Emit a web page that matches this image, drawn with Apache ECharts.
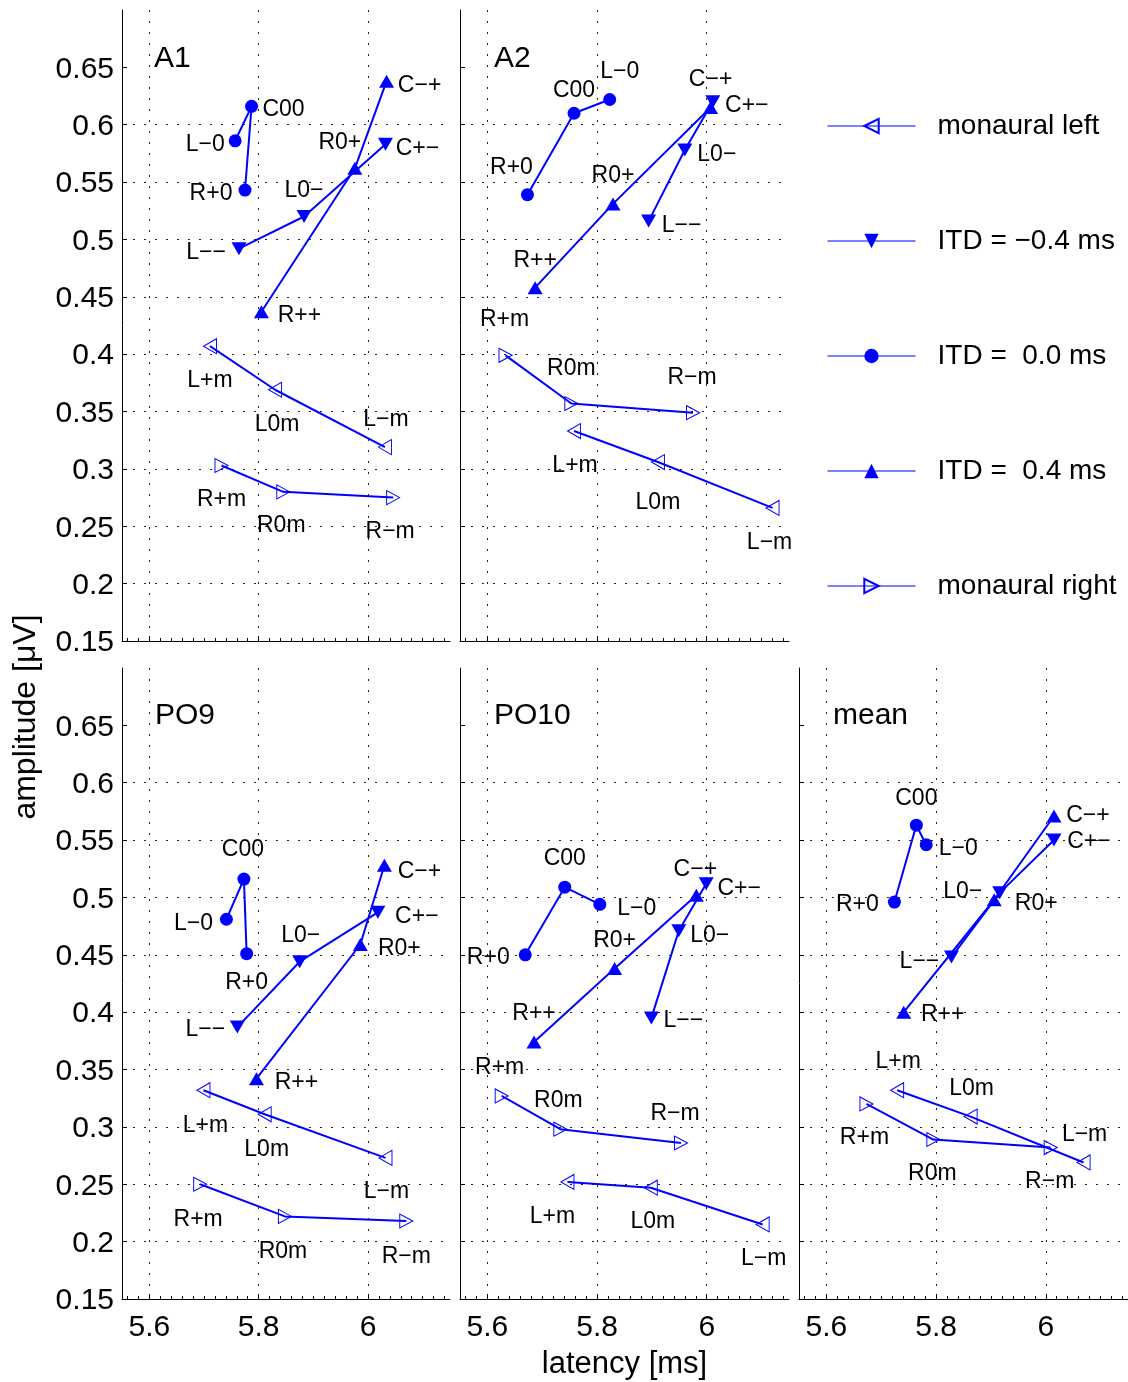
<!DOCTYPE html>
<html>
<head>
<meta charset="utf-8">
<title>Latency vs. amplitude</title>
<script src="https://cdn.jsdelivr.net/npm/echarts@6/dist/echarts.min.js"></script>
<style>
  html, body { margin: 0; padding: 0; background: #fff; }
  #chart { width: 1128px; height: 1382px; }
</style>
</head>
<body>
<div id="chart"></div>
<script>
// ---------------------------------------------------------------------------
// Data
// ---------------------------------------------------------------------------
const panelNames = ['A1', 'A2', 'PO9', 'PO10', 'mean'];
const seriesNames = ['monaural left', 'ITD = \u22120.4 ms', 'ITD =  0.0 ms', 'ITD =  0.4 ms', 'monaural right'];
const pointNames = [
  ['L+m', 'L0m', 'L\u2212m'],
  ['L\u2212\u2212', 'L0\u2212', 'C+\u2212'],
  ['L\u22120', 'C00', 'R+0'],
  ['R++', 'R0+', 'C\u2212+'],
  ['R+m', 'R0m', 'R\u2212m']
];

// latency [ms] and amplitude [uV]; rows follow seriesNames, columns follow pointNames
const latencyA1     = [[5.711, 5.830, 6.031], [5.764, 5.883, 6.032], [5.757, 5.787, 5.775], [5.805, 5.976, 6.034], [5.732, 5.845, 6.046]];
const amplitudeA1   = [[0.407, 0.369, 0.319], [0.492, 0.520, 0.583], [0.586, 0.616, 0.543], [0.437, 0.562, 0.638], [0.303, 0.280, 0.275]];
const latencyA2     = [[5.758, 5.911, 6.120], [5.894, 5.960, 6.011], [5.823, 5.758, 5.673], [5.687, 5.829, 6.007], [5.633, 5.753, 5.975]];
const amplitudeA2   = [[0.333, 0.306, 0.266], [0.516, 0.578, 0.620], [0.622, 0.610, 0.539], [0.458, 0.531, 0.615], [0.399, 0.357, 0.349]];
const latencyPO9    = [[5.699, 5.811, 6.032], [5.761, 5.875, 6.018], [5.741, 5.773, 5.778], [5.796, 5.986, 6.030], [5.693, 5.848, 6.070]];
const amplitudePO9  = [[0.332, 0.311, 0.273], [0.387, 0.444, 0.487], [0.481, 0.516, 0.451], [0.342, 0.459, 0.528], [0.250, 0.222, 0.218]];
const latencyPO10   = [[5.746, 5.898, 6.102], [5.899, 5.949, 5.999], [5.805, 5.741, 5.669], [5.685, 5.832, 5.981], [5.626, 5.733, 5.953]];
const amplitudePO10 = [[0.252, 0.247, 0.215], [0.395, 0.471, 0.512], [0.494, 0.509, 0.450], [0.374, 0.438, 0.502], [0.327, 0.298, 0.286]];
const latencyMean   = [[5.729, 5.863, 6.069], [5.828, 5.916, 6.015], [5.782, 5.764, 5.724], [5.741, 5.906, 6.015], [5.673, 5.795, 6.009]];
const amplitudeMean = [[0.332, 0.309, 0.269], [0.448, 0.504, 0.550], [0.546, 0.563, 0.496], [0.400, 0.498, 0.571], [0.320, 0.289, 0.282]];

// axis ranges and ticks
const xMin = 5.55, xMax = 6.15;
const yMin = 0.15, yMax = 0.7;
const xTicks = [5.6, 5.8, 6.0];
const xTickLabels = ['5.6', '5.8', '6'];
const yTicks = [0.15, 0.2, 0.25, 0.3, 0.35, 0.4, 0.45, 0.5, 0.55, 0.6, 0.65];
const yTickLabels = ['0.15', '0.2', '0.25', '0.3', '0.35', '0.4', '0.45', '0.5', '0.55', '0.6', '0.65'];
const xMinorTicks = [];
for (let k = 556; k <= 614; k += 2) xMinorTicks.push(k / 100);

// ---------------------------------------------------------------------------
// Layout and styling
// ---------------------------------------------------------------------------
const FONT = '"Liberation Sans", Arial, Helvetica, sans-serif';
const BLUE = '#0000ff';

// text offsets (px) of each point label from its marker
const shiftA1   = [[[0, 33], [2, 33], [1, -29]], [[-33, 2], [0, -28], [32, 2]], [[-30, 2], [32, 1], [-34, 2]], [[38, 2], [-15, -28], [33, 3]], [[0, 32], [-2, 32], [-3, 32]]];
const shiftA2   = [[[1, 33], [0, 39], [-3, 33]], [[33, 3], [32, 3], [34, 2]], [[10, -30], [0, -25], [-16, -29]], [[0, -29], [0, -30], [0, -30]], [[-1, -38], [0, -37], [-1, -37]]];
const shiftPO9  = [[[2, 33], [2, 33], [1, 32]], [[-32, 1], [1, -28], [39, 2]], [[-33, 2], [-1, -31], [0, 27]], [[40, 2], [39, 2], [35, 4]], [[-2, 33], [-2, 33], [0, 34]]];
const shiftPO10 = [[[-15, 33], [2, 32], [1, 32]], [[32, 1], [31, 3], [33, 3]], [[37, 2], [0, -30], [-37, 1]], [[0, -30], [0, -30], [-1, -28]], [[-2, -30], [-2, -31], [-6, -31]]];
const shiftMean = [[[1, -31], [1, -30], [1, -30]], [[-32, 3], [-37, -3], [35, 0]], [[32, 2], [0, -29], [-37, 1]], [[39, 0], [42, 2], [34, -2]], [[-2, 32], [-1, 32], [-1, 32]]];
// the glyphs sit a little high in their boxes; nudge labels down
const GLYPH_DROP = 2;

const panels = [
  { lat: latencyA1,   amp: amplitudeA1,   shift: shiftA1,   rect: [122, 10, 328, 631],  title: [154, 44] },
  { lat: latencyA2,   amp: amplitudeA2,   shift: shiftA2,   rect: [460, 10, 329, 631],  title: [494, 44] },
  { lat: latencyPO9,  amp: amplitudePO9,  shift: shiftPO9,  rect: [122, 668, 328, 631], title: [155, 701] },
  { lat: latencyPO10, amp: amplitudePO10, shift: shiftPO10, rect: [460, 668, 329, 631], title: [494, 701] },
  { lat: latencyMean, amp: amplitudeMean, shift: shiftMean, rect: [799, 668, 329, 631], title: [833, 701] }
];

// marker per series: left-pointing open, down filled, circle filled, up filled, right-pointing open
const markers = [
  { symbol: 'path://M0,5L10,0L10,10Z', size: [13, 15], hollow: true },
  { symbol: 'path://M0,0L10,0L5,10Z',  size: [15, 13], hollow: false },
  { symbol: 'circle',                  size: 13,       hollow: false },
  { symbol: 'path://M5,0L10,10L0,10Z', size: [15, 13], hollow: false },
  { symbol: 'path://M10,5L0,0L0,10Z',  size: [13, 14], hollow: true }
];

const dotted = { color: '#222', width: 1, type: [2, 9] };
const pickLabel = (ticks, labels) => v => {
  const i = ticks.findIndex(t => Math.abs(t - v) < 1e-9);
  return i < 0 ? '' : labels[i];
};

const grids = [], xAxes = [], yAxes = [], series = [];

panels.forEach((p, pi) => {
  const [l, t, w, h] = p.rect;
  grids.push({ left: l, top: t, width: w, height: h, containLabel: false, outerBoundsMode: 'none' });

  const bottomRow = pi >= 2;
  const mainX = {
    type: 'value', gridIndex: pi, min: xMin, max: xMax, position: 'bottom',
    axisLine: { show: true, onZero: false, lineStyle: { color: '#000', width: 1 } },
    axisTick: { show: true, inside: true, length: 5, customValues: xTicks, lineStyle: { color: '#000', width: 1 } },
    axisLabel: {
      show: bottomRow, customValues: xTicks, formatter: pickLabel(xTicks, xTickLabels),
      margin: 14, fontSize: 30, color: '#000', fontFamily: FONT
    },
    splitLine: { show: true, lineStyle: dotted }
  };
  if (pi === 3) {
    Object.assign(mainX, {
      name: 'latency [ms]', nameLocation: 'middle', nameGap: 50,
      nameTextStyle: { fontSize: 31, color: '#000', fontFamily: FONT }
    });
  }
  xAxes.push(mainX);
  // minor tick marks along the bottom edge
  xAxes.push({
    type: 'value', gridIndex: pi, min: xMin, max: xMax, position: 'bottom', offset: 0,
    axisLine: { show: false, onZero: false },
    axisTick: { show: true, inside: true, length: 3, customValues: xMinorTicks, lineStyle: { color: '#000', width: 1 } },
    axisLabel: { show: false },
    splitLine: { show: false }
  });

  yAxes.push({
    type: 'value', gridIndex: pi, min: yMin, max: yMax, interval: 0.05,
    axisLine: { show: true, lineStyle: { color: '#000', width: 1 } },
    axisTick: { show: true, inside: true, length: 5, customValues: yTicks, lineStyle: { color: '#000', width: 1 } },
    axisLabel: {
      show: pi === 0 || pi === 2, customValues: yTicks, formatter: pickLabel(yTicks, yTickLabels),
      margin: 8, fontSize: 30, color: '#000', fontFamily: FONT,
      verticalAlign: 'top', lineHeight: 2 * GLYPH_DROP
    },
    splitLine: { show: true, showMaxLine: false, lineStyle: dotted }
  });

  seriesNames.forEach((name, si) => {
    const m = markers[si];
    series.push({
      name: name,
      type: 'line',
      xAxisIndex: pi * 2,
      yAxisIndex: pi,
      data: p.lat[si].map((x, k) => ({
        value: [x, p.amp[si][k]],
        label: { offset: [p.shift[si][k][0], p.shift[si][k][1] + GLYPH_DROP] }
      })),
      symbol: m.symbol,
      symbolSize: m.size,
      showSymbol: true,
      showAllSymbol: true,
      lineStyle: { color: BLUE, width: 2 },
      itemStyle: m.hollow
        ? { color: 'rgba(0,0,0,0)', borderColor: BLUE, borderWidth: 1 }
        : { color: BLUE, borderWidth: 0 },
      label: {
        show: true,
        position: 'inside',
        formatter: prm => pointNames[si][prm.dataIndex],
        fontSize: 23,
        color: '#000',
        fontFamily: FONT,
        textBorderWidth: 0
      },
      emphasis: { disabled: true },
      z: m.hollow ? 2 : 3
    });
  });
});

const option = {
  animation: false,
  backgroundColor: '#fff',
  textStyle: { fontFamily: FONT },
  title: panels.map((p, i) => ({
    text: panelNames[i],
    left: p.title[0],
    top: p.title[1],
    padding: 0,
    textStyle: { fontSize: 30, fontWeight: 'normal', color: '#000', fontFamily: FONT }
  })),
  legend: {
    data: seriesNames,
    orient: 'vertical',
    left: 827,
    top: 112,
    padding: 0,
    itemWidth: 88,
    itemHeight: 18,
    itemGap: 87,
    selectedMode: false,
    lineStyle: { width: 1 },
    textStyle: { fontSize: 28, color: '#000', fontFamily: FONT, padding: [0, 0, 0, 17] }
  },
  grid: grids,
  xAxis: xAxes,
  yAxis: yAxes,
  series: series,
  graphic: [{
    type: 'text',
    x: 26,
    y: 717,
    rotation: Math.PI / 2,
    style: {
      text: 'amplitude [\u03bcV]',
      font: '32px ' + FONT,
      fill: '#000',
      align: 'center',
      verticalAlign: 'middle'
    }
  }]
};

const chart = echarts.init(document.getElementById('chart'), null, { renderer: 'canvas' });
chart.setOption(option);
</script>
</body>
</html>
